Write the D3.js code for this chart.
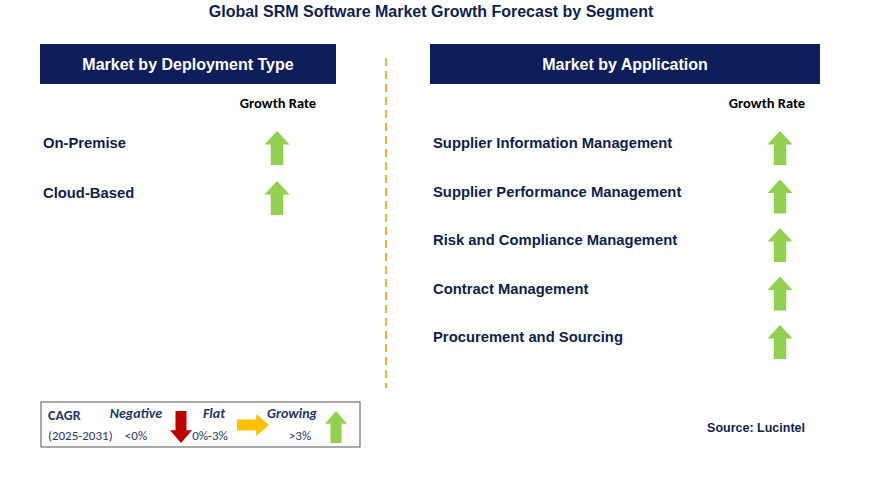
<!DOCTYPE html>
<html><head><meta charset="utf-8">
<script src="https://cdn.jsdelivr.net/npm/d3@7"></script>
<style>body{margin:0;background:#fff}</style></head>
<body><svg id="c" width="880" height="477"></svg>
<script>
const deployment = ["On-Premise","Cloud-Based"];
const deploymentTrend = ["up","up"];
const application = ["Supplier Information Management","Supplier Performance Management","Risk and Compliance Management","Contract Management","Procurement and Sourcing"];
const applicationTrend = ["up","up","up","up","up"];
const legendItems = [{label:"Negative",range:"<0%",dir:"down"},{label:"Flat",range:"0%-3%",dir:"right"},{label:"Growing",range:">3%",dir:"up"}];

const svg = d3.select("#c");
const navy="#0e1e5b", txt="#0d1f4f", font="Arial, Liberation Sans, sans-serif";
const colors={up:"#92d050",down:"#c00000",right:"#ffc000"};

svg.append("text").attr("x",431).attr("y",17).attr("text-anchor","middle")
  .attr("font-family",font).attr("font-weight","bold").attr("font-size",16).attr("fill",txt)
  .text("Global SRM Software Market Growth Forecast by Segment");

function arrow(g,cx,cy,dir,w,h){
  const hw=w/2, sw=w/4, hh=h*0.4;
  const p=[[0,-h/2],[hw,-h/2+hh],[sw,-h/2+hh],[sw,h/2],[-sw,h/2],[-sw,-h/2+hh],[-hw,-h/2+hh]];
  const rot={up:0,down:180,right:90}[dir];
  g.append("path").attr("d",d3.line()(p)+"Z").attr("fill",colors[dir])
   .attr("transform",`translate(${cx},${cy}) rotate(${rot})`);
}

function panel(x0,x1,title,items,trend,arrowX,labelX,rowY0,step,gx){
  svg.append("rect").attr("x",x0).attr("y",44).attr("width",x1-x0).attr("height",40).attr("fill",navy);
  svg.append("text").attr("x",(x0+x1)/2).attr("y",70).attr("text-anchor","middle")
   .attr("font-family",font).attr("font-weight","bold").attr("font-size",16).attr("fill","#fff").text(title);
  svg.append("text").attr("x",labelX).attr("y",108).attr("text-anchor","middle")
   .attr("font-family","Calibri, Carlito, Liberation Sans, sans-serif").attr("font-weight","bold").attr("font-size",14.5).attr("fill","#000").text("Growth Rate");
  const y=d3.scalePoint().domain(items).range([rowY0,rowY0+step*(items.length-1)]);
  items.forEach((d,i)=>{
    svg.append("text").attr("x",gx).attr("y",y(d)+5).attr("font-family",font).attr("font-weight","bold")
      .attr("font-size",14.8).attr("fill",txt).text(d);
    arrow(svg,arrowX,y(d)+5,trend[i],25,34);
  });
}
panel(40,336,"Market by Deployment Type",deployment,deploymentTrend,277,278,143,50,43);
panel(430,820,"Market by Application",application,applicationTrend,780,767,143,48.5,433);

svg.append("line").attr("x1",386).attr("x2",386).attr("y1",58).attr("y2",388)
  .attr("stroke","#f5b335").attr("stroke-width",2).attr("stroke-dasharray","8,5");

svg.append("rect").attr("x",41).attr("y",402).attr("width",319).attr("height",45).attr("fill","#fff").attr("stroke","#555").attr("stroke-width",1);
const cal="Calibri, Carlito, Liberation Sans, sans-serif";
svg.append("text").attr("x",48).attr("y",420).attr("font-family",cal).attr("font-weight","bold").attr("font-size",14).attr("fill","#1f3864").text("CAGR");
svg.append("text").attr("x",48).attr("y",440).attr("font-family",cal).attr("font-size",13).attr("fill","#1f3864").text("(2025-2031)");
const lx=d3.scalePoint().domain(legendItems.map(d=>d.label)).range([136,292]);
const ax={down:181,right:253,up:336};
legendItems.forEach(d=>{
  svg.append("text").attr("x",lx(d.label)).attr("y",418).attr("text-anchor","middle").attr("font-family",cal)
    .attr("font-style","italic").attr("font-weight","bold").attr("font-size",14).attr("fill","#1f3864").text(d.label);
  svg.append("text").attr("x",lx(d.label)+(d.dir==="down"?0:d.dir==="right"?-4:8)).attr("y",440).attr("text-anchor","middle").attr("font-family",cal)
    .attr("font-size",13).attr("fill","#1f3864").text(d.range);
  if(d.dir==="right") arrow(svg,ax.right,425,"right",22,32);
  else arrow(svg,ax[d.dir],427,d.dir,22,32);
});

svg.append("text").attr("x",805).attr("y",432).attr("text-anchor","end").attr("font-family",font)
 .attr("font-weight","bold").attr("font-size",12.5).attr("fill",txt).text("Source: Lucintel");
</script></body></html>
